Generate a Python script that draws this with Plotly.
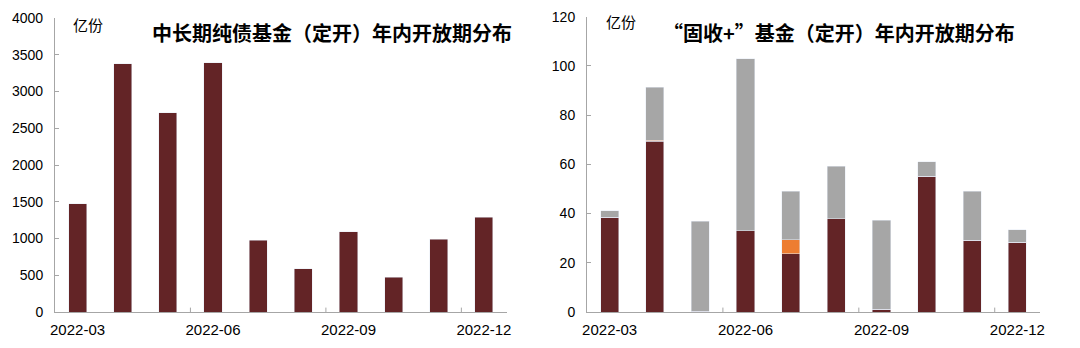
import plotly.graph_objects as go

months = ["2022-03", "2022-04", "2022-05", "2022-06", "2022-07",
          "2022-08", "2022-09", "2022-10", "2022-11", "2022-12"]
tick_months = ["2022-03", "2022-06", "2022-09", "2022-12"]

# 中长期纯债基金（定开）
pure_bond = [1470, 3380, 2710, 3395, 980, 590, 1095, 472, 990, 1290]

# “固收+”基金（定开）— stacked segments
fi_plus_dark = [38.6, 69.4, 0.4, 33.1, 23.7, 38.0, 1.2, 55.2, 29.2, 28.3]
fi_plus_orange = [0, 0.3, 0, 0, 5.6, 0, 0, 0, 0, 0]
fi_plus_gray = [2.6, 21.7, 36.5, 69.8, 19.8, 21.3, 36.1, 5.8, 19.8, 5.2]

title_left = "中长期纯债基金（定开）年内开放期分布"
title_right = "“固收+”基金（定开）年内开放期分布"
unit = "亿份"

DARK = "#632426"
ORANGE = "#ED7D31"
GRAY = "#A6A6A6"
AXIS = "#A6A6A6"
FONT = "Liberation Sans, Noto Sans CJK SC, sans-serif"
CJK = "Noto Sans CJK SC"

fig = go.Figure()
fig.add_trace(go.Bar(x=months, y=pure_bond, marker_color=DARK, width=0.4,
                     xaxis="x", yaxis="y", showlegend=False))
fig.add_trace(go.Bar(x=months, y=fi_plus_dark, marker_color=DARK, width=0.4,
                     xaxis="x2", yaxis="y2", showlegend=False))
fig.add_trace(go.Bar(x=months, y=fi_plus_orange, marker_color=ORANGE, width=0.4,
                     xaxis="x2", yaxis="y2", showlegend=False))
fig.add_trace(go.Bar(x=months, y=fi_plus_gray, marker_color=GRAY, width=0.4,
                     xaxis="x2", yaxis="y2", showlegend=False))

xcommon = dict(type="category", range=[-0.5, 9.5], showline=True, linecolor=AXIS,
               linewidth=1, ticks="", tickmode="array", tickvals=tick_months,
               ticktext=tick_months, showgrid=False, zeroline=False,
               ticklabelstandoff=4,
               tickfont=dict(size=15, color="black", family=FONT), automargin=False)
ycommon = dict(showline=True, linecolor=AXIS, linewidth=1, ticks="inside", ticklen=4,
               tickcolor=AXIS, showgrid=False, zeroline=False, ticklabelstandoff=8,
               tickfont=dict(size=14, color="black", family=FONT), automargin=False)

fig.update_layout(
    width=1080, height=348,
    margin=dict(l=0, r=0, t=0, b=0),
    paper_bgcolor="white", plot_bgcolor="white",
    barmode="stack",
    font=dict(family=FONT, color="black"),
    xaxis=dict(domain=[0.0509, 0.469], anchor="y", **xcommon),
    yaxis=dict(domain=[0.1034, 0.948], anchor="x", range=[0, 4000],
               tickvals=[0, 500, 1000, 1500, 2000, 2500, 3000, 3500, 4000], **ycommon),
    xaxis2=dict(domain=[0.5435, 0.963], anchor="y2", **xcommon),
    yaxis2=dict(domain=[0.1034, 0.952], anchor="x2", range=[0, 120],
                tickvals=[0, 20, 40, 60, 80, 100, 120], **ycommon),
)

shapes = []
for xr, yr in (("x", "y domain"), ("x2", "y2 domain")):
    for pos in (2.5, 5.5, 8.5):
        shapes.append(dict(type="line", xref=xr, yref=yr, x0=pos, x1=pos,
                           y0=0, y1=0.015, line=dict(color=AXIS, width=1)))
fig.update_layout(shapes=shapes)

def note(text, x, y, size):
    fig.add_annotation(text=text, xref="paper", yref="paper",
                       x=x / 1080, y=1 - y / 348, xanchor="center", yanchor="middle",
                       showarrow=False,
                       font=dict(size=size, color="black", family=CJK))

note("<b>" + title_left + "</b>", 332, 32, 20)
note("<b>" + title_right + "</b>", 839, 32, 20)
note(unit, 88, 24, 15)
note(unit, 621, 22, 15)

fig.write_html("out.html")
